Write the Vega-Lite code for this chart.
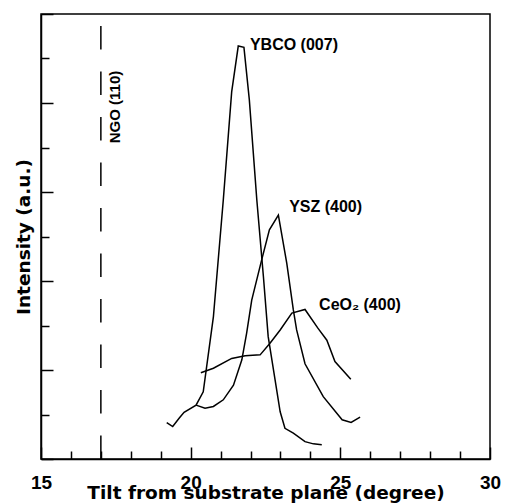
{
  "$schema": "https://vega.github.io/schema/vega-lite/v6.json",
  "width": 449,
  "height": 445,
  "autosize": {"type": "none"},
  "padding": {"left": 41, "top": 14, "right": 15, "bottom": 45},
  "background": "white",
  "config": {
    "view": {"stroke": "black", "strokeWidth": 1.5},
    "axis": {"domainColor": "black", "domainWidth": 1.5, "tickColor": "black", "tickWidth": 1.5, "grid": false, "labelColor": "black", "titleColor": "black"}
  },
  "datasets": {
    "curves": [
      {"s": "YBCO", "t": 19.20, "i": 0.82},
      {"s": "YBCO", "t": 19.40, "i": 0.73},
      {"s": "YBCO", "t": 19.62, "i": 0.92},
      {"s": "YBCO", "t": 19.78, "i": 1.05},
      {"s": "YBCO", "t": 20.18, "i": 1.21},
      {"s": "YBCO", "t": 20.42, "i": 1.51},
      {"s": "YBCO", "t": 20.76, "i": 3.20},
      {"s": "YBCO", "t": 21.09, "i": 5.82},
      {"s": "YBCO", "t": 21.37, "i": 8.25},
      {"s": "YBCO", "t": 21.59, "i": 9.28},
      {"s": "YBCO", "t": 21.78, "i": 9.25},
      {"s": "YBCO", "t": 21.96, "i": 8.07},
      {"s": "YBCO", "t": 22.21, "i": 5.82},
      {"s": "YBCO", "t": 22.43, "i": 4.10},
      {"s": "YBCO", "t": 22.59, "i": 2.75},
      {"s": "YBCO", "t": 22.82, "i": 1.78},
      {"s": "YBCO", "t": 22.99, "i": 1.06},
      {"s": "YBCO", "t": 23.15, "i": 0.69},
      {"s": "YBCO", "t": 23.43, "i": 0.58},
      {"s": "YBCO", "t": 23.82, "i": 0.39},
      {"s": "YBCO", "t": 24.10, "i": 0.34},
      {"s": "YBCO", "t": 24.38, "i": 0.32},
      {"s": "YSZ", "t": 20.18, "i": 1.21},
      {"s": "YSZ", "t": 20.48, "i": 1.14},
      {"s": "YSZ", "t": 20.76, "i": 1.18},
      {"s": "YSZ", "t": 21.09, "i": 1.33},
      {"s": "YSZ", "t": 21.43, "i": 1.66},
      {"s": "YSZ", "t": 21.71, "i": 2.23},
      {"s": "YSZ", "t": 21.87, "i": 2.83},
      {"s": "YSZ", "t": 22.04, "i": 3.57},
      {"s": "YSZ", "t": 22.37, "i": 4.47},
      {"s": "YSZ", "t": 22.63, "i": 5.15},
      {"s": "YSZ", "t": 22.93, "i": 5.48},
      {"s": "YSZ", "t": 23.21, "i": 4.40},
      {"s": "YSZ", "t": 23.43, "i": 3.35},
      {"s": "YSZ", "t": 23.54, "i": 2.90},
      {"s": "YSZ", "t": 23.82, "i": 2.14},
      {"s": "YSZ", "t": 24.43, "i": 1.40},
      {"s": "YSZ", "t": 25.06, "i": 0.88},
      {"s": "YSZ", "t": 25.36, "i": 0.82},
      {"s": "YSZ", "t": 25.66, "i": 0.94},
      {"s": "CeO2", "t": 20.34, "i": 1.94},
      {"s": "CeO2", "t": 20.76, "i": 2.04},
      {"s": "CeO2", "t": 21.37, "i": 2.26},
      {"s": "CeO2", "t": 21.82, "i": 2.32},
      {"s": "CeO2", "t": 22.32, "i": 2.34},
      {"s": "CeO2", "t": 22.65, "i": 2.60},
      {"s": "CeO2", "t": 22.99, "i": 2.90},
      {"s": "CeO2", "t": 23.38, "i": 3.28},
      {"s": "CeO2", "t": 23.82, "i": 3.36},
      {"s": "CeO2", "t": 24.25, "i": 2.94},
      {"s": "CeO2", "t": 24.55, "i": 2.67},
      {"s": "CeO2", "t": 24.82, "i": 2.19},
      {"s": "CeO2", "t": 25.35, "i": 1.79}
    ],
    "marker": [{"t": 17, "i": 0, "i2": 10}],
    "labels": [
      {"t": 21.98, "i": 9.30, "text": "YBCO (007)"},
      {"t": 23.29, "i": 5.66, "text": "YSZ (400)"},
      {"t": 24.29, "i": 3.46, "text": "CeO₂ (400)"}
    ],
    "ngo": [{"t": 17.47, "i": 7.91, "text": "NGO (110)"}]
  },
  "resolve": {"axis": {"x": "independent", "y": "independent"}},
  "layer": [
    {
      "data": {"name": "curves"},
      "mark": {"type": "line", "stroke": "black", "strokeWidth": 1.5},
      "encoding": {
        "x": {
          "field": "t", "type": "quantitative",
          "scale": {"domain": [15, 30], "nice": false, "zero": false},
          "axis": {
            "orient": "bottom",
            "values": [15, 20, 25, 30],
            "tickSize": -12,
            "labelFont": "Liberation Sans", "labelFontWeight": "bold", "labelFontSize": 19,
            "labelPadding": 26, "labelFlush": false, "labelOverlap": false,
            "title": "Tilt from substrate plane (degree)",
            "titleFont": "DejaVu Sans", "titleFontWeight": "bold", "titleFontSize": 18.5,
            "titleY": 39, "titleBaseline": "alphabetic"
          }
        },
        "y": {
          "field": "i", "type": "quantitative",
          "scale": {"domain": [0, 10], "nice": false},
          "axis": {
            "orient": "left",
            "values": [0, 2, 4, 6, 8, 10],
            "tickSize": -12,
            "labels": false,
            "title": "Intensity (a.u.)",
            "titleFont": "DejaVu Sans", "titleFontWeight": "bold", "titleFontSize": 18.5,
            "titlePadding": 7
          }
        },
        "detail": {"field": "s", "type": "nominal"}
      }
    },
    {
      "data": {"name": "marker"},
      "mark": {"type": "rule", "stroke": "black", "strokeWidth": 1.5, "strokeDash": [23.5, 22]},
      "encoding": {
        "x": {
          "field": "t", "type": "quantitative",
          "axis": {"orient": "bottom", "values": [16, 17, 18, 19, 21, 22, 23, 24, 26, 27, 28, 29], "tickSize": -8, "labels": false, "domain": false, "title": null}
        },
        "y": {
          "field": "i", "type": "quantitative",
          "axis": {"orient": "left", "values": [1, 3, 5, 7, 9], "tickSize": -8, "labels": false, "domain": false, "title": null}
        },
        "y2": {"field": "i2"}
      }
    },
    {
      "data": {"name": "labels"},
      "mark": {"type": "text", "align": "left", "baseline": "middle", "font": "Liberation Sans", "fontWeight": "bold", "fontSize": 16, "fill": "black"},
      "encoding": {
        "x": {"field": "t", "type": "quantitative", "axis": null},
        "y": {"field": "i", "type": "quantitative", "axis": null},
        "text": {"field": "text"}
      }
    },
    {
      "data": {"name": "ngo"},
      "mark": {"type": "text", "align": "center", "baseline": "middle", "angle": 270, "font": "Liberation Sans", "fontWeight": "bold", "fontSize": 15, "fill": "black"},
      "encoding": {
        "x": {"field": "t", "type": "quantitative", "axis": null},
        "y": {"field": "i", "type": "quantitative", "axis": null},
        "text": {"field": "text"}
      }
    }
  ]
}
